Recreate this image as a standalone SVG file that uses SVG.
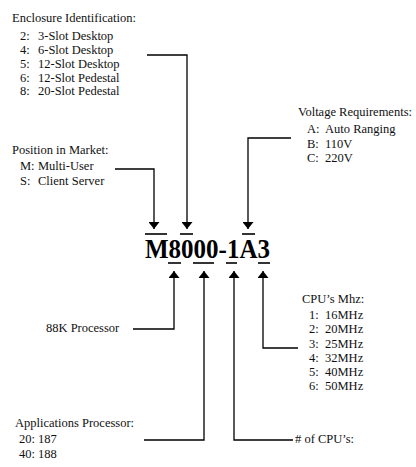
<svg xmlns="http://www.w3.org/2000/svg" width="416" height="467" viewBox="0 0 416 467">
<defs>
<marker id="ah" viewBox="0 0 10 10" refX="10" refY="5" markerWidth="7" markerHeight="11" markerUnits="userSpaceOnUse" orient="auto" preserveAspectRatio="none">
<path d="M0,0 L10,5 L0,10 Z" fill="#000"/>
</marker>
<style>
text{font-family:"Liberation Serif","Times New Roman",serif;font-size:12.5px;fill:#111}
.big{font-size:27px;font-weight:bold;fill:#000}
.conn path{fill:none;stroke:#000;stroke-width:1.3;marker-end:url(#ah)}
.bar{stroke:#000;stroke-width:1.6}
</style>
</defs>
<rect width="416" height="467" fill="#fff"/>
<g id="enclosure">
<text x="12" y="22">Enclosure Identification:</text>
<text x="20" y="40">2:</text><text x="38" y="40">3-Slot Desktop</text>
<text x="20" y="54">4:</text><text x="38" y="54">6-Slot Desktop</text>
<text x="20" y="68">5:</text><text x="38" y="68">12-Slot Desktop</text>
<text x="20" y="81.5">6:</text><text x="38" y="81.5">12-Slot Pedestal</text>
<text x="20" y="95">8:</text><text x="38" y="95">20-Slot Pedestal</text>
</g>
<g id="voltage">
<text x="298" y="116">Voltage Requirements:</text>
<text x="307" y="133">A:</text><text x="325" y="133">Auto Ranging</text>
<text x="307" y="147.5">B:</text><text x="325" y="147.5">110V</text>
<text x="307" y="162">C:</text><text x="325" y="162">220V</text>
</g>
<g id="market">
<text x="12" y="154">Position in Market:</text>
<text x="20" y="170">M:</text><text x="38" y="170">Multi-User</text>
<text x="20" y="185">S:</text><text x="38" y="185">Client Server</text>
</g>
<g id="model">
<text class="big" x="145" y="258" textLength="125" lengthAdjust="spacingAndGlyphs">M8000-1A3</text>
<line class="bar" x1="145" y1="234" x2="167" y2="234"/>
<line class="bar" x1="180" y1="234" x2="193" y2="234"/>
<line class="bar" x1="242" y1="234" x2="255" y2="234"/>
<line class="bar" x1="168" y1="263" x2="181" y2="263"/>
<line class="bar" x1="193" y1="263" x2="214" y2="263"/>
<line class="bar" x1="226" y1="263" x2="237" y2="263"/>
<line class="bar" x1="258" y1="263" x2="270" y2="263"/>
</g>
<g id="mhz">
<text x="302" y="303">CPU’s Mhz:</text>
<text x="309" y="319">1:</text><text x="325" y="319">16MHz</text>
<text x="309" y="333">2:</text><text x="325" y="333">20MHz</text>
<text x="309" y="348">3:</text><text x="325" y="348">25MHz</text>
<text x="309" y="362">4:</text><text x="325" y="362">32MHz</text>
<text x="309" y="376">5:</text><text x="325" y="376">40MHz</text>
<text x="309" y="390">6:</text><text x="325" y="390">50MHz</text>
</g>
<g id="proc88k">
<text x="46" y="332">88K Processor</text>
</g>
<g id="apps">
<text x="15" y="427">Applications Processor:</text>
<text x="19" y="443">20: 187</text>
<text x="19" y="458">40: 188</text>
</g>
<g id="cpus">
<text x="295" y="443"># of CPU’s:</text>
</g>
<g id="connectors" class="conn">
<path d="M147,55 H187 V229"/>
<path d="M115,169 H154 V229"/>
<path d="M291,138 H248 V229"/>
<path d="M133,329 H174 V271"/>
<path d="M144,440 H204 V271"/>
<path d="M293,440 H234 V271"/>
<path d="M298,348 H263 V271"/>
</g>
</svg>
